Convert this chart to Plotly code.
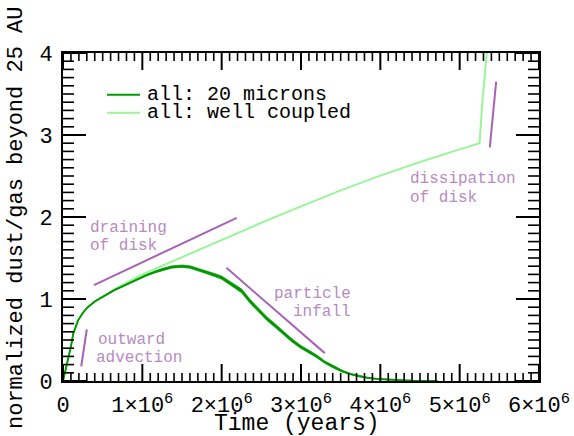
import plotly.graph_objects as go

# Time axis values are in millions of years
time_dust = [0, 0.03, 0.067, 0.1, 0.13, 0.19, 0.25, 0.30, 0.40, 0.50, 0.57, 0.65, 0.74,
             0.85, 0.95, 1.05, 1.16, 1.25, 1.37, 1.50, 1.60, 1.70, 1.80, 1.92, 2.00,
             2.08, 2.15, 2.25, 2.36, 2.45, 2.57, 2.68, 2.78, 2.88, 2.99, 3.10, 3.20,
             3.30, 3.41, 3.52, 3.62, 3.72, 3.83, 3.95, 4.04, 4.15, 4.25, 4.40, 4.55, 4.72]
dust_20micron = [0, 0.12, 0.26, 0.42, 0.58, 0.74, 0.83, 0.89, 0.97, 1.03, 1.07, 1.11, 1.15,
                 1.20, 1.25, 1.29, 1.33, 1.36, 1.39, 1.40, 1.39, 1.36, 1.33, 1.29, 1.26,
                 1.21, 1.16, 1.10, 0.97, 0.88, 0.76, 0.67, 0.58, 0.50, 0.42, 0.36, 0.30,
                 0.23, 0.17, 0.12, 0.085, 0.06, 0.04, 0.025, 0.02, 0.012, 0.008, 0.004, 0.002, 0.0]
# half-width of the stochastic scatter about the 20 micron curve
dust_scatter = [0, 0.006, 0.006, 0.006, 0.006, 0.006, 0.006, 0.006, 0.006, 0.007, 0.007, 0.008, 0.008,
                0.009, 0.01, 0.011, 0.012, 0.013, 0.014, 0.015, 0.016, 0.017, 0.018, 0.019, 0.02,
                0.021, 0.022, 0.024, 0.024, 0.024, 0.023, 0.022, 0.021, 0.02, 0.019, 0.018, 0.017,
                0.015, 0.014, 0.012, 0.01, 0.009, 0.007, 0.006, 0.005, 0.004, 0.004, 0.003, 0.002, 0.002]

time_gas = [0, 0.03, 0.067, 0.1, 0.13, 0.19, 0.25, 0.30, 0.40, 0.50, 0.57, 0.65, 0.74,
            1.0, 1.5, 2.0, 2.5, 3.0, 3.5, 4.0, 4.5, 5.0, 5.25, 5.29, 5.33, 5.37]
dust_coupled = [0, 0.12, 0.26, 0.42, 0.58, 0.74, 0.83, 0.89, 0.97, 1.03, 1.075, 1.12, 1.17,
                1.30, 1.51, 1.72, 1.93, 2.13, 2.325, 2.505, 2.67, 2.825, 2.90, 3.45, 3.85, 4.3]

# guide strokes next to each evolutionary phase
advection_t, advection_y = [0.30, 0.23], [0.63, 0.18]
draining_t, draining_y = [0.39, 2.19], [1.17, 1.99]
infall_t, infall_y = [2.06, 3.30], [1.38, 0.34]
dissipation_t, dissipation_y = [5.46, 5.38], [3.65, 2.85]

x_tick_alias = {str(k): f"{k}×10<sup>6</sup>" for k in range(1, 7)}

series_names = ["all: 20 microns", "all: well coupled"]

FONT = "Liberation Mono"
DARK = "#009a00"
LIGHT = "#9af59a"
PURPLE = "#a663b4"
PURPLE_TEXT = "#b68bc2"

W, H = 574, 436
MARGIN = dict(l=63, r=35, t=53, b=55)
X_MAX, Y_MAX = 6, 4
# pixels per data unit inside the plotting box
PX_X = (W - MARGIN["l"] - MARGIN["r"]) / X_MAX
PX_Y = (H - MARGIN["t"] - MARGIN["b"]) / Y_MAX
X_MAJOR_LEN, X_MINOR_LEN = 17, 8
Y_MAJOR_LEN, Y_MINOR_LEN = 23, 11

fig = go.Figure()

upper = [v + s for v, s in zip(dust_20micron, dust_scatter)]
lower = [max(v - s, 0) for v, s in zip(dust_20micron, dust_scatter)]

fig.add_trace(go.Scatter(x=time_gas, y=dust_coupled, mode="lines",
                         line=dict(color=LIGHT, width=2), showlegend=False))
fig.add_trace(go.Scatter(x=time_dust, y=lower, mode="lines",
                         line=dict(color=DARK, width=0.6), showlegend=False))
fig.add_trace(go.Scatter(x=time_dust, y=upper, mode="lines", fill="tonexty",
                         fillcolor=DARK, line=dict(color=DARK, width=0.6), showlegend=False))
fig.add_trace(go.Scatter(x=time_dust, y=dust_20micron, mode="lines",
                         line=dict(color=DARK, width=1.8), showlegend=False))

for tx, ty in [(advection_t, advection_y), (draining_t, draining_y),
               (infall_t, infall_y), (dissipation_t, dissipation_y)]:
    fig.add_trace(go.Scatter(x=tx, y=ty, mode="lines",
                             line=dict(color=PURPLE, width=2), showlegend=False))

# inward tick marks on all four sides: major every unit, minor every tenth
tick_paths = {True: ([], []), False: ([], [])}
for i in range(X_MAX * 10 + 1):
    tx = i / 10
    major = i % 10 == 0
    dy = (X_MAJOR_LEN if major else X_MINOR_LEN) / PX_Y
    xs, ys = tick_paths[major]
    for y0, y1 in [(0, dy), (Y_MAX, Y_MAX - dy)]:
        xs += [tx, tx, None]
        ys += [y0, y1, None]
for i in range(Y_MAX * 10 + 1):
    ty = i / 10
    major = i % 10 == 0
    dx = (Y_MAJOR_LEN if major else Y_MINOR_LEN) / PX_X
    xs, ys = tick_paths[major]
    for x0, x1 in [(0, dx), (X_MAX, X_MAX - dx)]:
        xs += [x0, x1, None]
        ys += [ty, ty, None]
for major, (xs, ys) in tick_paths.items():
    fig.add_trace(go.Scatter(x=xs, y=ys, mode="lines", hoverinfo="skip",
                             line=dict(color="black", width=2 if major else 1.6),
                             connectgaps=False, showlegend=False))

# hand-built legend
legend_rows = [(3.49, DARK), (3.27, LIGHT)]
for (ly, col), name in zip(legend_rows, series_names):
    fig.add_shape(type="line", x0=0.555, x1=0.97, y0=ly, y1=ly, xref="x", yref="y",
                  line=dict(color=col, width=2))
    fig.add_annotation(x=1.03, y=ly, text=name, showarrow=False, xanchor="left",
                       yanchor="middle", font=dict(family=FONT, size=20, color="black"))

phase_labels = [
    ("draining", 0.315, 1.866, "left"),
    ("of disk", 0.315, 1.646, "left"),
    ("outward", 0.416, 0.50, "left"),
    ("advection", 0.39, 0.28, "left"),
    ("particle", 3.65, 1.06, "right"),
    ("infall", 3.65, 0.84, "right"),
    ("dissipation", 4.35, 2.46, "left"),
    ("of disk", 4.35, 2.23, "left"),
]
for text, lx, ly, anchor in phase_labels:
    fig.add_annotation(x=lx, y=ly, text=text, showarrow=False, xanchor=anchor,
                       yanchor="middle", font=dict(family=FONT, size=16, color=PURPLE_TEXT))

fig.add_annotation(x=0.4926, y=-0.131, xref="paper", yref="paper", text="Time (years)",
                   showarrow=False, xanchor="center", yanchor="middle",
                   font=dict(family=FONT, size=23, color="black"))
fig.add_annotation(x=-0.0966, y=0.497, xref="paper", yref="paper",
                   text="normalized dust/gas beyond 25 AU", textangle=-90,
                   showarrow=False, xanchor="center", yanchor="middle",
                   font=dict(family=FONT, size=22, color="black"))

fig.update_xaxes(range=[0, X_MAX], labelalias=x_tick_alias,
                 showgrid=False, zeroline=False, showline=True, linecolor="black",
                 linewidth=2, mirror=True, ticks="", ticklabelstandoff=3,
                 tickmode="linear", tick0=0, dtick=1,
                 tickfont=dict(family=FONT, size=22, color="black"))
fig.update_yaxes(range=[0, Y_MAX],
                 showgrid=False, zeroline=False, showline=True, linecolor="black",
                 linewidth=2, mirror=True, ticks="", ticklabelstandoff=4,
                 tickmode="linear", tick0=0, dtick=1,
                 tickfont=dict(family=FONT, size=22, color="black"))

fig.update_layout(width=W, height=H, margin=dict(**MARGIN, autoexpand=False),
                  plot_bgcolor="white", paper_bgcolor="white", showlegend=False,
                  font=dict(family=FONT))

fig.write_html("out.html")
